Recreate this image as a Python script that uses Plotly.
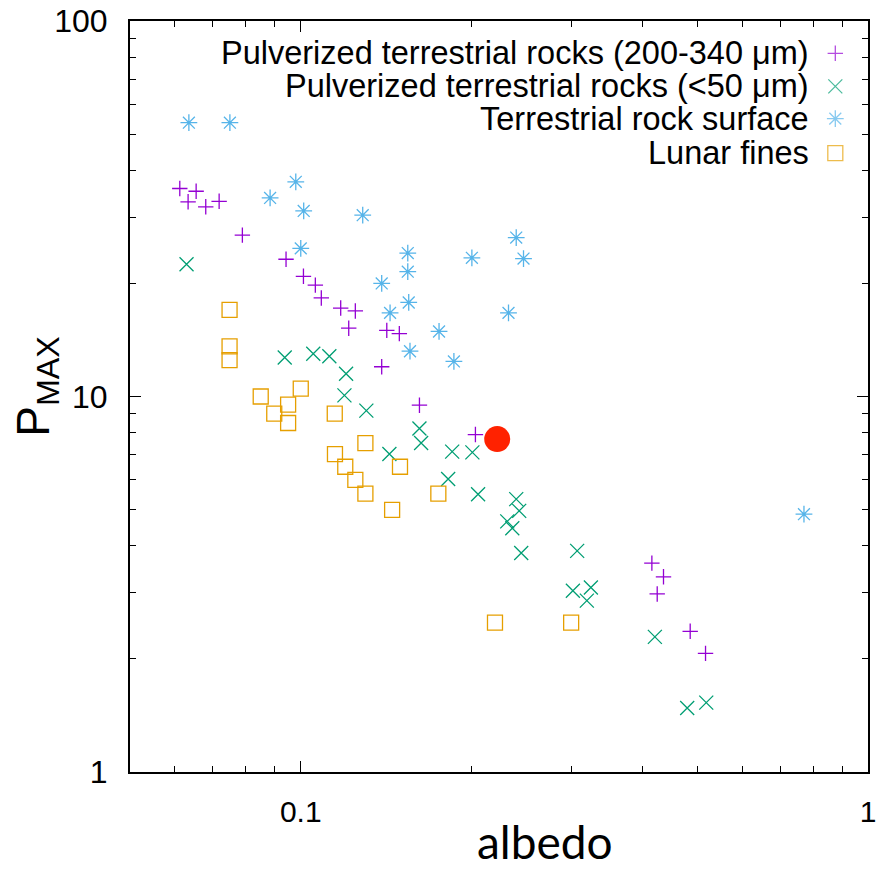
import plotly.graph_objects as go

# ---- data ----
coarse_albedo = [0.0612, 0.0654, 0.0633, 0.0680, 0.0718, 0.0789, 0.0942, 0.1011, 0.1061, 0.1087,
                 0.1176, 0.1248, 0.1215, 0.1418, 0.1492, 0.1389, 0.1619, 0.2032, 0.4159, 0.4360,
                 0.4250, 0.4859, 0.5171]
coarse_pmax = [35.8, 35.2, 33.0, 32.0, 33.1, 26.9, 23.2, 20.9, 19.8, 18.3,
               17.2, 16.9, 15.2, 15.0, 14.7, 12.0, 9.48, 7.92, 3.60, 3.31,
               2.98, 2.37, 2.07]

fine_albedo = [0.0629, 0.0937, 0.1052, 0.1123, 0.1202, 0.1194, 0.1305, 0.1619, 0.1630, 0.1433,
               0.1849, 0.2007, 0.1819, 0.2054, 0.2398, 0.2427, 0.2312, 0.2360, 0.2447, 0.3071,
               0.3018, 0.3247, 0.3194, 0.4210, 0.4800, 0.5186]
fine_pmax = [22.5, 12.7, 13.0, 12.8, 11.5, 10.07, 9.17, 8.22, 7.52, 7.03,
             7.13, 7.10, 6.03, 5.49, 5.33, 4.96, 4.65, 4.46, 3.83, 3.88,
             3.04, 3.10, 2.86, 2.29, 1.48, 1.53]

surface_albedo = [0.0635, 0.0750, 0.0980, 0.0883, 0.1012, 0.1286, 0.2398, 0.1000, 0.1544, 0.2003,
                  0.2470, 0.1544, 0.1389, 0.1550, 0.1437, 0.2324, 0.1753, 0.1558, 0.1862, 0.7711]
surface_pmax = [53.6, 53.6, 37.3, 33.8, 31.2, 30.4, 26.5, 24.8, 24.1, 23.4,
                23.3, 21.5, 20.0, 17.8, 16.7, 16.7, 14.9, 13.2, 12.4, 4.86]

lunar_albedo = [0.0749, 0.0749, 0.0749, 0.1000, 0.0850, 0.0950, 0.0898, 0.1148, 0.0950, 0.1300,
                0.1149, 0.1198, 0.1496, 0.1248, 0.1748, 0.1300, 0.1449, 0.2200, 0.2997]
lunar_pmax = [17.0, 13.6, 12.5, 10.5, 10.0, 9.51, 9.00, 9.00, 8.50, 7.51,
              7.02, 6.50, 6.50, 6.00, 5.51, 5.51, 4.99, 2.50, 2.50]

target_albedo = [0.222]
target_pmax = [7.70]

series_names = ["Pulverized terrestrial rocks (200-340 \u03bcm)",
                "Pulverized terrestrial rocks (<50 \u03bcm)",
                "Terrestrial rock surface",
                "Lunar fines"]

x_ticks = [0.1, 1]
x_tick_text = ["0.1", "1"]
y_ticks = [1, 10, 100]
y_tick_text = ["1", "10", "100"]
x_minor = [0.06, 0.07, 0.08, 0.09, 0.2, 0.3, 0.4, 0.5, 0.6, 0.7, 0.8, 0.9]
y_minor = [2, 3, 4, 5, 6, 7, 8, 9, 20, 30, 40, 50, 60, 70, 80, 90]

# ---- styles ----
SANS = "Liberation Sans, Arial, Helvetica, sans-serif"
colors = ["#9400D3", "#009E73", "#56B4E9", "#E69F00"]
symbols = ["cross-thin-open", "x-thin-open", "asterisk-open", "square-open"]
sizes = [11, 14, 14, 15]

fig = go.Figure()
datasets = [(coarse_albedo, coarse_pmax), (fine_albedo, fine_pmax),
            (surface_albedo, surface_pmax), (lunar_albedo, lunar_pmax)]
for (xs, ys), c, s, sz, nm in zip(datasets, colors, symbols, sizes, series_names):
    fig.add_trace(go.Scatter(
        x=xs, y=ys, mode="markers", name=nm, showlegend=False,
        marker=dict(symbol=s, size=sz, color=c, line=dict(color=c, width=1.3)),
    ))

fig.add_trace(go.Scatter(
    x=target_albedo, y=target_pmax, mode="markers", showlegend=False,
    marker=dict(symbol="circle", size=26, color="#FF2200", line=dict(width=0)),
))

# ---- gnuplot-style key: text right-aligned, sample symbol on the right ----
key_rows_y = [0.957, 0.913, 0.870, 0.824]
key_text_x = 0.923
key_sym_x = 0.9557
for i, nm in enumerate(series_names):
    fig.add_annotation(x=key_text_x, y=key_rows_y[i], xref="paper", yref="paper",
                       text=nm, showarrow=False, xanchor="right", yanchor="middle",
                       font=dict(family=SANS, size=32.5, color="black"))
fig.add_trace(go.Scatter(
    x=[key_sym_x] * 4, y=key_rows_y, xaxis="x2", yaxis="y2", mode="markers",
    showlegend=False, hoverinfo="skip",
    marker=dict(symbol=symbols, size=sizes, color=colors,
                line=dict(color=colors, width=1.3)),
))

axis_common = dict(
    type="log", showline=True, linecolor="black", linewidth=2, mirror="allticks",
    ticks="inside", ticklen=11, tickwidth=1.2, tickcolor="black",
    showgrid=False, zeroline=False, automargin=False,
)

fig.update_layout(
    width=881, height=874,
    margin=dict(l=130, r=13, t=21, b=102),
    paper_bgcolor="white", plot_bgcolor="white",
    font=dict(family=SANS, color="black"),
    xaxis=dict(
        **axis_common, range=[-1.30103, 0], tickmode="array",
        tickvals=x_ticks, ticktext=x_tick_text,
        tickfont=dict(family=SANS, size=30, color="black"),
        ticklabelstandoff=12,
        minor=dict(ticks="inside", ticklen=6, tickcolor="black", tickwidth=1,
                   tickmode="array", tickvals=x_minor, showgrid=False),
    ),
    yaxis=dict(
        **axis_common, range=[0, 2], tickmode="array",
        tickvals=y_ticks, ticktext=y_tick_text,
        tickfont=dict(family=SANS, size=32, color="black"),
        ticklabelstandoff=14,
        minor=dict(ticks="inside", ticklen=6, tickcolor="black", tickwidth=1,
                   tickmode="array", tickvals=y_minor, showgrid=False),
    ),
    xaxis2=dict(range=[0, 1], overlaying="x", visible=False, fixedrange=True),
    yaxis2=dict(range=[0, 1], overlaying="y", visible=False, fixedrange=True),
    showlegend=False,
)

fig.add_annotation(x=0.5626, y=-0.093, xref="paper", yref="paper", text="albedo",
                   showarrow=False, xanchor="center", yanchor="middle",
                   font=dict(family="Lato", size=46, color="black"))
fig.add_annotation(x=-0.126, y=0.513, xref="paper", yref="paper", text="P<sub>MAX</sub>",
                   showarrow=False, textangle=-90, xanchor="center", yanchor="middle",
                   font=dict(family=SANS, size=46, color="black"))

fig.write_html("out.html")
